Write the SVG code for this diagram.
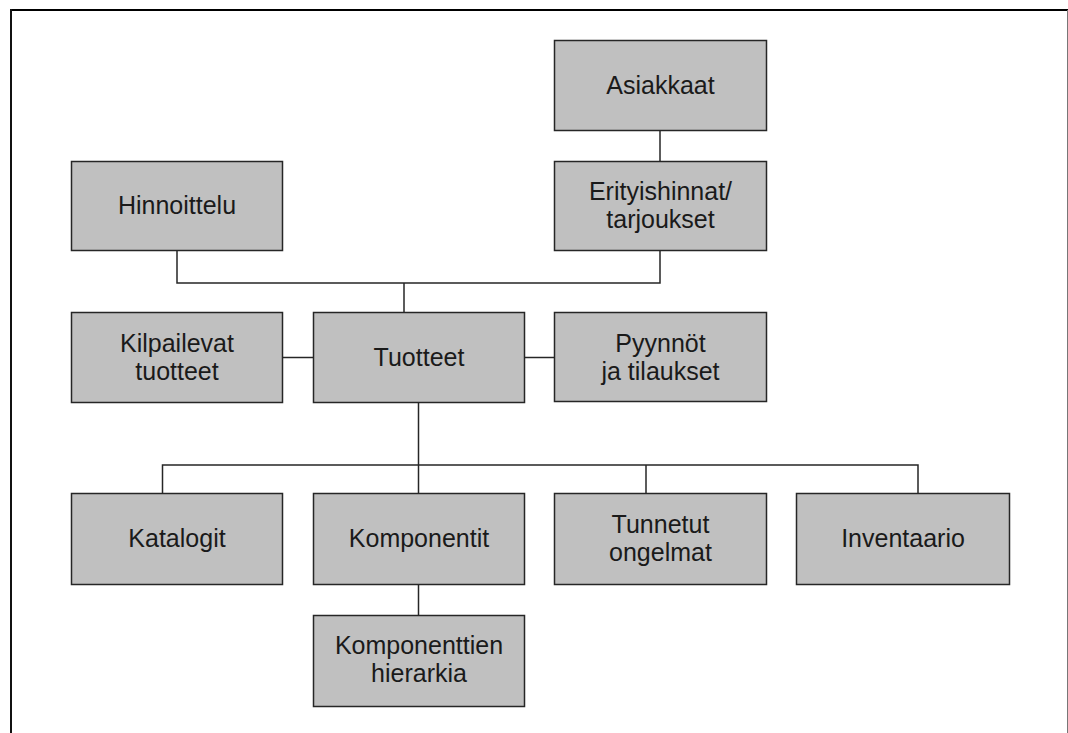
<svg xmlns="http://www.w3.org/2000/svg" width="1068" height="733" viewBox="0 0 1068 733">
<style>
.box{fill:#c0c0c0;stroke:#262626;stroke-width:1.5}
.lbl{font-family:"Liberation Sans",Arial,sans-serif;font-size:25px;fill:#1a1a1a;text-anchor:middle}
.con{fill:none;stroke:#262626;stroke-width:1.5}
</style>
<rect width="1068" height="733" fill="#ffffff"/>
<g id="frame">
<line x1="10" y1="10" x2="1068" y2="10" stroke="#000" stroke-width="2"/>
<line x1="11" y1="9" x2="11" y2="733" stroke="#111" stroke-width="2"/>
<line x1="1067.5" y1="10" x2="1067.5" y2="733" stroke="#777" stroke-width="1"/>
</g>
<g id="connectors">
<line class="con" x1="660" y1="131" x2="660" y2="162"/>
<polyline class="con" points="177,251 177,283 660,283 660,251"/>
<line class="con" x1="404" y1="283" x2="404" y2="313"/>
<line class="con" x1="283" y1="357.5" x2="313.5" y2="357.5"/>
<line class="con" x1="524.5" y1="357.5" x2="554.5" y2="357.5"/>
<line class="con" x1="418.5" y1="403" x2="418.5" y2="493.5"/>
<polyline class="con" points="162.5,493.5 162.5,465 918,465 918,493.5"/>
<line class="con" x1="646" y1="465" x2="646" y2="493.5"/>
<line class="con" x1="418.5" y1="584.5" x2="418.5" y2="615.5"/>
</g>
<g id="asiakkaat"><rect class="box" x="554.5" y="40.5" width="212" height="90"/><text class="lbl" x="660.5" y="94">Asiakkaat</text></g>
<g id="erityishinnat"><rect class="box" x="554.5" y="161.5" width="212" height="89"/><text class="lbl" x="660.5" y="199.5">Erityishinnat/</text><text class="lbl" x="660.5" y="227.5">tarjoukset</text></g>
<g id="hinnoittelu"><rect class="box" x="71.5" y="161.5" width="211" height="89"/><text class="lbl" x="177" y="214">Hinnoittelu</text></g>
<g id="kilpailevat"><rect class="box" x="71.5" y="312.5" width="211" height="90"/><text class="lbl" x="177" y="351.5">Kilpailevat</text><text class="lbl" x="177" y="379.5">tuotteet</text></g>
<g id="tuotteet"><rect class="box" x="313.5" y="312.5" width="211" height="90"/><text class="lbl" x="419" y="365.5">Tuotteet</text></g>
<g id="pyynnot"><rect class="box" x="554.5" y="312.5" width="212" height="89"/><text class="lbl" x="660.5" y="351.5">Pyynnöt</text><text class="lbl" x="660.5" y="379.5">ja tilaukset</text></g>
<g id="katalogit"><rect class="box" x="71.5" y="493.5" width="211" height="91"/><text class="lbl" x="177" y="547">Katalogit</text></g>
<g id="komponentit"><rect class="box" x="313.5" y="493.5" width="211" height="91"/><text class="lbl" x="419" y="547">Komponentit</text></g>
<g id="tunnetut"><rect class="box" x="554.5" y="493.5" width="212" height="91"/><text class="lbl" x="660.5" y="532.5">Tunnetut</text><text class="lbl" x="660.5" y="560.5">ongelmat</text></g>
<g id="inventaario"><rect class="box" x="796.5" y="493.5" width="213" height="91"/><text class="lbl" x="903" y="547">Inventaario</text></g>
<g id="komponenttien"><rect class="box" x="313.5" y="615.5" width="211" height="91"/><text class="lbl" x="419" y="654">Komponenttien</text><text class="lbl" x="419" y="682">hierarkia</text></g>
</svg>
